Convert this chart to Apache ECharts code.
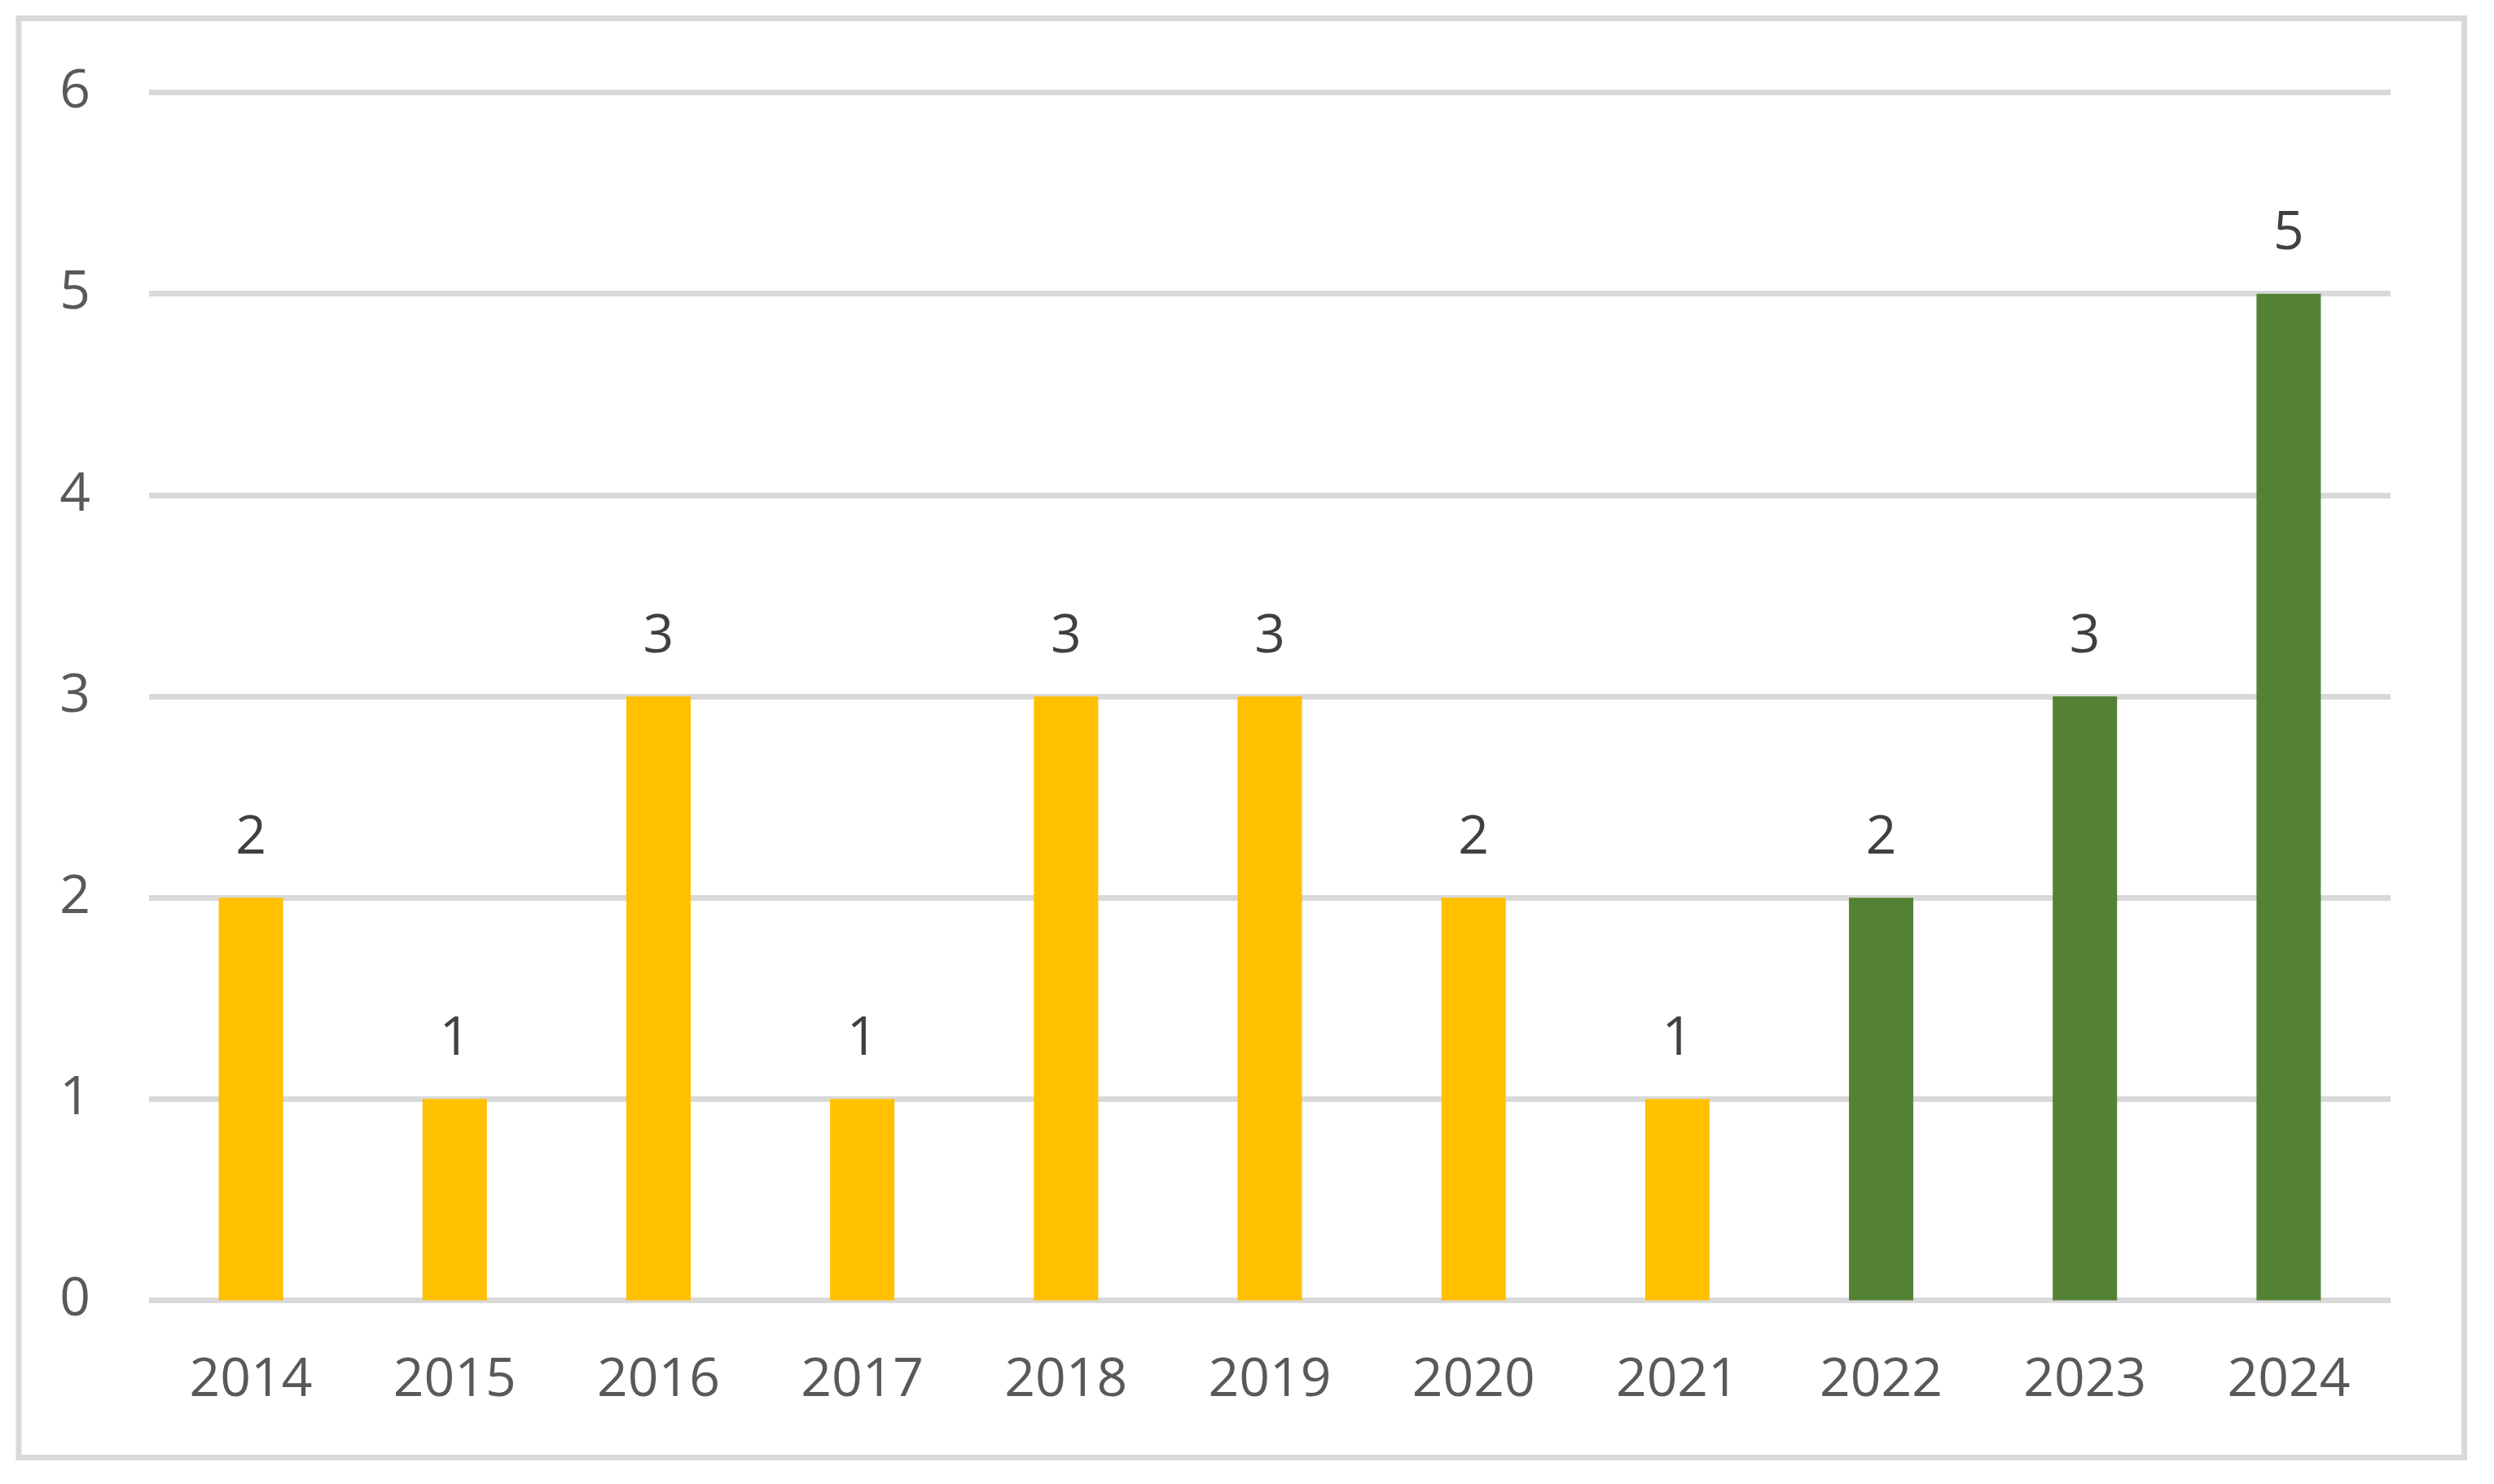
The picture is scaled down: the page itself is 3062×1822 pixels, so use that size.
<!DOCTYPE html>
<html>
<head>
<meta charset="utf-8">
<script src="https://cdn.jsdelivr.net/npm/echarts@6/dist/echarts.min.js"></script>
<style>
  html, body { margin: 0; padding: 0; background: #ffffff; }
  #chart { width: 3062px; height: 1822px; }
</style>
</head>
<body>
<div id="chart"></div>
<script>
const years = ['2014', '2015', '2016', '2017', '2018', '2019', '2020', '2021', '2022', '2023', '2024'];
const counts = [2, 1, 3, 1, 3, 3, 2, 1, 2, 3, 5];
const greenFromYear = '2022';
const yMin = 0, yMax = 6, yStep = 1;

const chart = echarts.init(document.getElementById('chart'), null, { renderer: 'canvas' });
const FONT = '"Open Sans", "DejaVu Sans", sans-serif';

chart.setOption({
  backgroundColor: '#ffffff',
  animation: false,
  graphic: [{
    type: 'rect',
    shape: { x: 23, y: 22.5, width: 3002.5, height: 1767 },
    style: { fill: 'none', stroke: '#d9d9d9', lineWidth: 7 },
    silent: true
  }],
  grid: { left: 183, right: 127, top: 113.5, bottom: 225.5, containLabel: false },
  xAxis: {
    type: 'category',
    data: years,
    axisLine: { show: false },
    axisTick: { show: false },
    axisLabel: { color: '#595959', fontSize: 66, fontFamily: FONT, margin: 66 }
  },
  yAxis: {
    type: 'value',
    min: yMin, max: yMax, interval: yStep,
    axisLine: { show: false },
    axisTick: { show: false },
    splitLine: { lineStyle: { color: '#d9d9d9', width: 7 } },
    axisLabel: { color: '#595959', fontSize: 66, fontFamily: FONT, margin: 72 }
  },
  series: [{
    type: 'bar',
    data: counts,
    barWidth: 79,
    itemStyle: {
      color: p => (years[p.dataIndex] >= greenFromYear ? '#548235' : '#ffc000')
    },
    label: {
      show: true,
      position: 'top',
      distance: 40,
      color: '#404040',
      fontSize: 66,
      fontFamily: FONT
    }
  }]
});
</script>
</body>
</html>
